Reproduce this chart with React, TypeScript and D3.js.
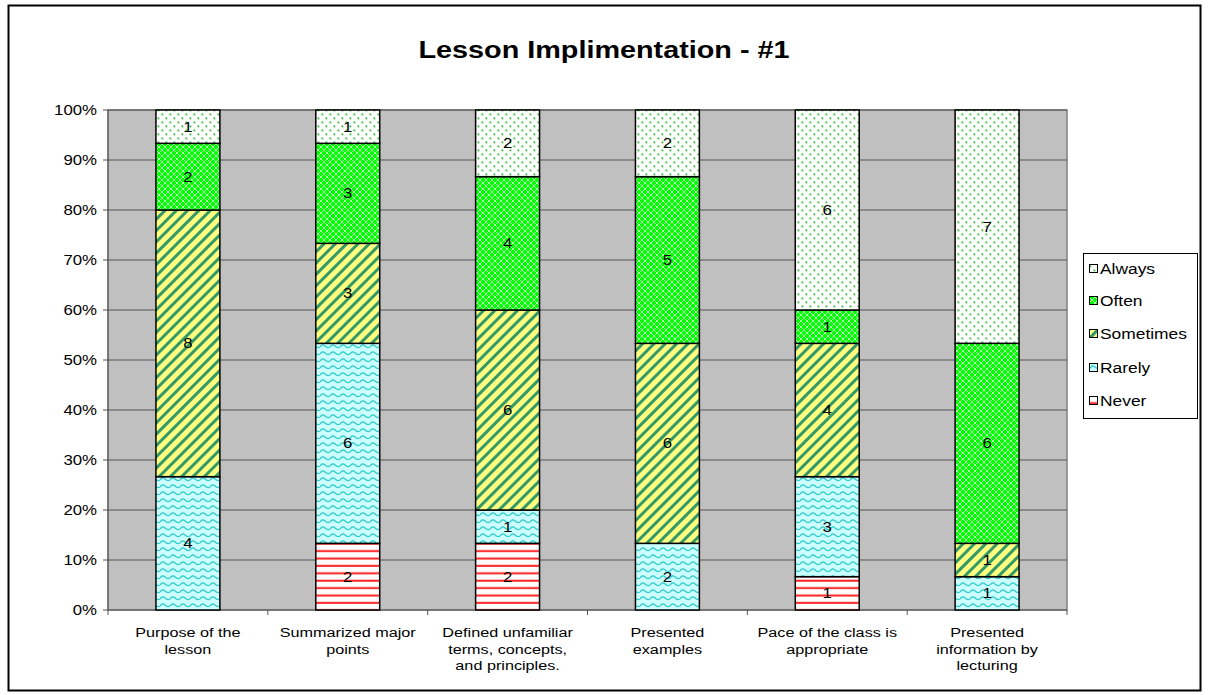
import React from "react";
import * as d3 from "d3";

const categories = [
  ["Purpose of the", "lesson"],
  ["Summarized major", "points"],
  ["Defined unfamiliar", "terms, concepts,", "and principles."],
  ["Presented", "examples"],
  ["Pace of the class is", "appropriate"],
  ["Presented", "information by", "lecturing"],
];
const seriesNames = ["Never", "Rarely", "Sometimes", "Often", "Always"];
const never = [0, 2, 2, 0, 1, 0];
const rarely = [4, 6, 1, 2, 3, 1];
const sometimes = [8, 3, 6, 6, 4, 1];
const often = [2, 3, 4, 5, 1, 6];
const always = [1, 1, 2, 2, 6, 7];
const yTicks = [0, 0.1, 0.2, 0.3, 0.4, 0.5, 0.6, 0.7, 0.8, 0.9, 1];

const patternIds = ["pNever", "pRarely", "pSometimes", "pOften", "pAlways"];
const SX = 1.2;

function T(props: { x: number; y: number; size: number; anchor?: string; bold?: boolean; children: any }) {
  return (
    <text
      transform={`translate(${props.x},${props.y}) scale(${SX},1)`}
      textAnchor={props.anchor || "start"}
      fontSize={props.size}
      fontWeight={props.bold ? "bold" : "normal"}
    >
      {props.children}
    </text>
  );
}

export default function App() {
  const W = 1209, H = 695;
  const left = 108, right = 1067, top = 110, bottom = 610;
  const values = [never, rarely, sometimes, often, always];
  const rows = categories.map((c, i) => {
    const r: any = { key: i };
    seriesNames.forEach((s, j) => (r[s] = values[j][i]));
    return r;
  });
  const stack = d3.stack<any>().keys(seriesNames).offset(d3.stackOffsetExpand)(rows);
  const x = d3.scaleBand<number>().domain(categories.map((_, i) => i)).range([left, right]).paddingInner(0.6).paddingOuter(0.3);
  const xOuter = d3.scaleBand<number>().domain(categories.map((_, i) => i)).range([left, right]);
  const y = d3.scaleLinear().domain([0, 1]).range([bottom, top]);
  const font = "Arial, 'Liberation Sans', sans-serif";

  const legendY = [401, 368, 334, 301, 269];

  return (
    <svg width={W} height={H} style={{ position: "absolute", left: 0, top: 0 }} fontFamily={font}>
      <defs>
        <pattern id="pNever" width="8" height="7.4" patternUnits="userSpaceOnUse">
          <rect width="8" height="7.4" fill="#fff" />
          <rect y="2.5" width="8" height="2" fill="#ff2020" />
        </pattern>
        <pattern id="pRarely" width="10" height="7" patternUnits="userSpaceOnUse">
          <rect width="10" height="7" fill="#ccffff" />
          <path d="M0,4 Q2.5,0.5 5,3 T10,4" fill="none" stroke="#33cccc" strokeWidth="1.3" />
        </pattern>
        <pattern id="pSometimes" width="8" height="8" patternUnits="userSpaceOnUse" patternTransform="rotate(45)">
          <rect width="8" height="8" fill="#ffff80" />
          <rect x="0" width="3" height="8" fill="#339966" />
        </pattern>
        <pattern id="pOften" width="6" height="6" patternUnits="userSpaceOnUse">
          <rect width="6" height="6" fill="#00ff00" />
          <path d="M0,0 L6,6 M6,0 L0,6" stroke="#ffffff" strokeWidth="0.9" opacity="0.75" />
        </pattern>
        <pattern id="pAlways" width="8" height="8" patternUnits="userSpaceOnUse">
          <rect width="8" height="8" fill="#fff" />
          <rect x="1.5" y="1.5" width="1.8" height="1.8" fill="#33bb33" />
          <rect x="5.5" y="5.5" width="1.8" height="1.8" fill="#33bb33" />
        </pattern>
      </defs>
      <rect x={8.5} y={5.5} width={1192} height={685} fill="#fff" stroke="#000" strokeWidth={2} />
      <T x={604} y={58} size={24} anchor="middle" bold>Lesson Implimentation - #1</T>
      <rect x={left} y={top} width={right - left} height={bottom - top} fill="#c0c0c0" stroke="#808080" strokeWidth={1.5} />
      {yTicks.map((t) => (
        <g key={t}>
          <line x1={left - 5} x2={right} y1={y(t)} y2={y(t)} stroke="#555" strokeWidth={1} />
          <T x={97} y={y(t) + 5} size={14} anchor="end">{d3.format(".0%")(t)}</T>
        </g>
      ))}
      <line x1={left} x2={left} y1={top} y2={bottom + 5} stroke="#555" />
      {categories.map((_, i) => (
        <line key={i} x1={xOuter(i)! + xOuter.bandwidth()} x2={xOuter(i)! + xOuter.bandwidth()} y1={bottom} y2={bottom + 5} stroke="#555" />
      ))}
      {stack.map((s, j) => (
        <g key={s.key}>
          {s.map((d, i) =>
            d[1] - d[0] > 0 ? (
              <g key={i}>
                <rect x={x(i)} y={y(d[1])} width={x.bandwidth()} height={y(d[0]) - y(d[1])} fill={`url(#${patternIds[j]})`} stroke="#000" strokeWidth={1.5} />
                <T x={x(i)! + x.bandwidth() / 2} y={(y(d[0]) + y(d[1])) / 2 + 5} size={14} anchor="middle">{values[j][i]}</T>
              </g>
            ) : null
          )}
        </g>
      ))}
      {categories.map((lines, i) => (
        <g key={i}>
          {lines.map((l, k) => (
            <T key={k} x={x(i)! + x.bandwidth() / 2} y={637 + k * 16.5} size={13.5} anchor="middle">{l}</T>
          ))}
        </g>
      ))}
      <rect x={1083.5} y={253.5} width={114} height={165} fill="#fff" stroke="#000" strokeWidth={1} />
      {seriesNames.map((s, j) => (
        <g key={s}>
          <rect x={1089.5} y={legendY[j] - 4.5} width={8} height={8} fill={`url(#${patternIds[j]})`} stroke="#000" strokeWidth={1} />
          <T x={1100} y={legendY[j] + 5} size={14.5}>{s}</T>
        </g>
      ))}
    </svg>
  );
}
